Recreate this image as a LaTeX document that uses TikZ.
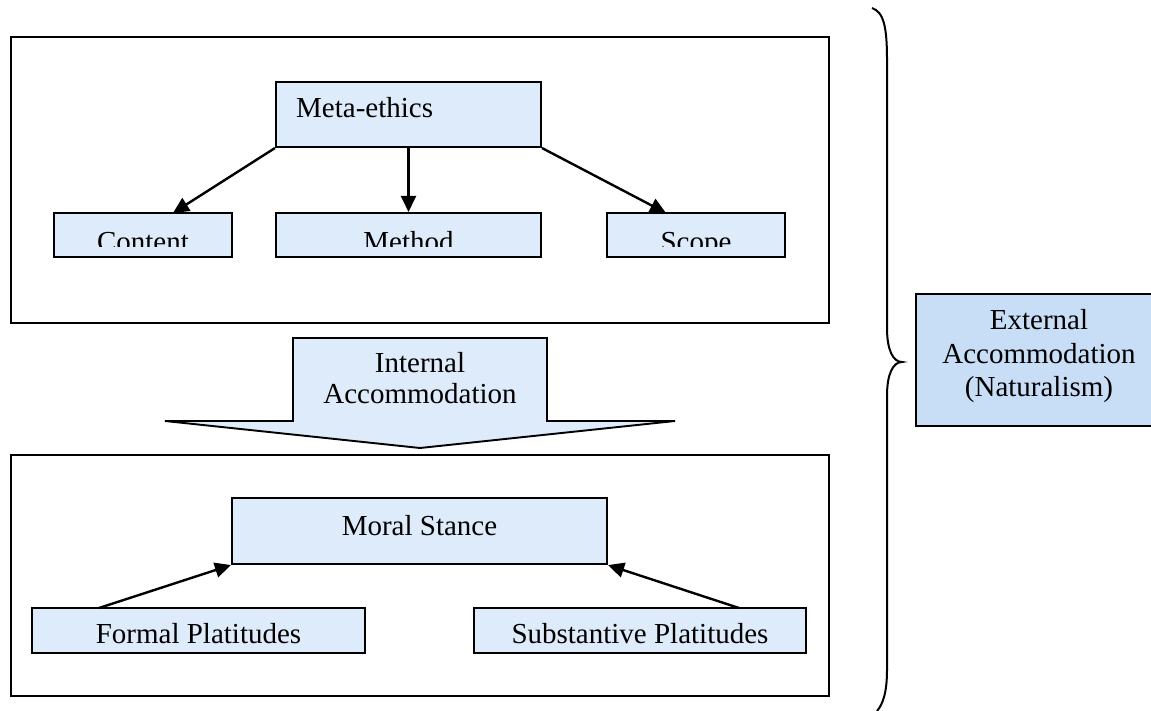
\documentclass[tikz,border=0pt]{standalone}
\usepackage{fontspec}
\setmainfont{Liberation Serif}
\usetikzlibrary{arrows.meta}
\definecolor{boxfill}{RGB}{222,235,250}
\definecolor{extfill}{RGB}{200,222,246}
\tikzset{
  frame/.style={draw=black, line width=1.9pt},
  card/.style={draw=black, line width=2.1pt, fill=boxfill, inner sep=0pt},
  label/.style={inner sep=0pt, anchor=base, font=\fontsize{29}{33}\selectfont},
  link/.style={line width=2.4pt, -{Triangle[length=16pt,width=15pt]}},
}
\begin{document}
\begin{tikzpicture}[x=1pt, y=-1pt]
\useasboundingbox (0,0) rectangle (1151,711);

% upper frame: meta-ethics and its three branches
\draw[frame] (11,37) rectangle (829,323);
\node[card, minimum width=265pt, minimum height=65pt] (meta) at (408.5,114.5) {};
\node[label, anchor=base west] (metat) at (296,118) {Meta-ethics};

\node[card, minimum width=178pt, minimum height=44pt] (content) at (143,235) {};
\node[card, minimum width=265pt, minimum height=44pt] (method) at (408.5,235) {};
\node[card, minimum width=178pt, minimum height=44pt] (scope) at (696,235) {};
\begin{scope}
  \clip (54,213) rectangle (785,247);
  \node[label] (contentt) at (143,252) {Content};
  \node[label] (methodt) at (408.5,252) {Method};
  \node[label] (scopet) at (696,252) {Scope};
\end{scope}

\coordinate (cin) at (173,213);
\coordinate (sin) at (666,213);
\draw[link] (meta.south west) -- (cin);
\draw[link] (meta.south) -- (method.north);
\draw[link] (meta.south east) -- (sin);

% block arrow between the frames
\draw[line width=1.9pt, fill=boxfill]
  (293,338) -- (547,338) -- (547,421) -- (675,421) -- (420,448)
  -- (165,421) -- (293,421) -- cycle;
\node[label] (int1) at (420,372) {Internal};
\node[label] (int2) at (420,403) {Accommodation};

% lower frame: moral stance and platitudes
\draw[frame] (11,455) rectangle (829,696);
\node[card, minimum width=375pt, minimum height=66pt] (moral) at (419.5,531) {};
\node[label] (moralt) at (419.5,535) {Moral Stance};
\node[card, minimum width=333pt, minimum height=45pt] (formal) at (198.5,630.5) {};
\node[label] (formalt) at (198.5,643) {Formal Platitudes};
\node[card, minimum width=332pt, minimum height=45pt] (subst) at (640,630.5) {};
\node[label] (substt) at (640,643) {Substantive Platitudes};

\coordinate (fout) at (99,608);
\coordinate (sout) at (739,608);
\draw[link] (fout) -- (moral.south west);
\draw[link] (sout) -- (moral.south east);

% brace and external accommodation
\draw[line width=2pt]
  (872,8) .. controls (884,12) and (887,28) .. (887,60)
  -- (887,328) .. controls (887,350) and (893,362) .. (902,362)
  .. controls (893,362) and (887,374) .. (887,396)
  -- (887,670) .. controls (887,692) and (883,704) .. (877,711);
\node[card, fill=extfill, minimum width=246pt, minimum height=132pt] (ext) at (1039,360) {};
\node[label] (ext1) at (1039,330) {External};
\node[label] (ext2) at (1039,363) {Accommodation};
\node[label] (ext3) at (1039,396) {(Naturalism)};
\end{tikzpicture}
\end{document}
